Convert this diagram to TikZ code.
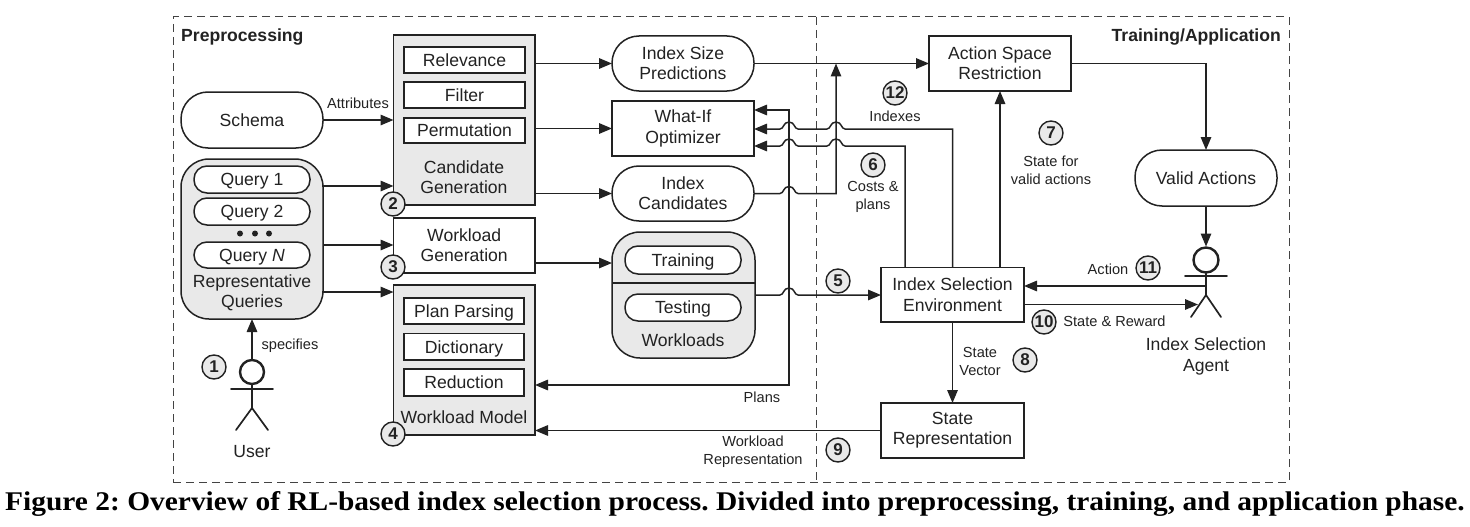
\documentclass[tikz,border=0pt]{standalone}
\usepackage{fontspec}
\usepackage{graphicx}
\setmainfont{Liberation Sans}
\newfontfamily\capfont{Liberation Serif}
\usetikzlibrary{arrows.meta}
\definecolor{ink}{HTML}{222222}
\definecolor{pale}{HTML}{E9E9E9}
\tikzset{
  every node/.style={text=ink},
  shp/.style={draw=ink,line width=1.5pt,inner sep=0pt,outer sep=0pt,align=center,
     font=\fontsize{17.6}{20.3}\selectfont},
  sl/.style={text height=16pt,text depth=3.4pt},
  grayf/.style={fill=pale},
  whitef/.style={fill=white},
  pill/.style={rounded corners=#1},
  conn/.style={draw=ink,line width=1.5pt},
  arr/.style={conn,-{Triangle[length=13pt,width=10.5pt]}},
  darr/.style={conn,{Triangle[length=13pt,width=10.5pt]}-{Triangle[length=13pt,width=10.5pt]}},
  badge/.style={circle,draw=ink,line width=1.4pt,fill=pale,inner sep=0pt,minimum size=24pt,
     font=\fontsize{17}{18}\selectfont\bfseries},
  lab/.style={align=center,font=\fontsize{14.6}{18}\selectfont,inner sep=0pt},
  big/.style={align=center,font=\fontsize{17.6}{20.3}\selectfont,inner sep=0pt},
  ttl/.style={font=\fontsize{17.6}{18}\selectfont\bfseries,inner sep=0pt},
  fig/.style={draw=ink,line width=1.7pt,line cap=round},
  frame/.style={draw=ink!85,line width=1pt,dash pattern=on 8pt off 5pt},
}
\newcommand{\bx}[7][]{%
  \node[shp,#1,minimum width={(#4)-(#2)},minimum height={(#5)-(#3)}] (#6) at ({((#2)+(#4))/2},{((#3)+(#5))/2}) {#7};}
\def\hopL#1#2{-- (#1+9,#2) .. controls (#1+5,#2) and (#1+6,#2-7) .. (#1,#2-7) .. controls (#1-6,#2-7) and (#1-5,#2) .. (#1-9,#2)}
\def\hopR#1#2{-- (#1-9,#2) .. controls (#1-5,#2) and (#1-6,#2-7) .. (#1,#2-7) .. controls (#1+6,#2-7) and (#1+5,#2) .. (#1+9,#2)}
\begin{document}
\begin{tikzpicture}[x=1pt,y=-1pt]
\useasboundingbox (0,0) rectangle (1470,527);
% frame
\node[frame,minimum width=1116pt,minimum height=465pt,inner sep=0pt,outer sep=0pt] (outer) at (731,249.5) {};
\coordinate (divtop) at (816,17);
\coordinate (divbot) at (816,482);
\draw[frame] (divtop) -- (divbot);
\node[ttl,anchor=west] (tpre) at (181,37) {Preprocessing};
\node[ttl,anchor=east] (ttrain) at (1281,37) {Training/Application};
% left column
\bx[whitef,pill=27pt]{181}{92}{323}{148}{schema}{Schema}
\bx[grayf,pill=28pt]{181}{159}{323}{319}{rq}{}
\bx[whitef,pill=13pt,sl]{194}{166}{310}{193}{q1}{Query 1}
\bx[whitef,pill=13pt,sl]{194}{198}{310}{225}{q2}{Query 2}
\bx[whitef,pill=13pt,sl]{194}{242}{310}{268}{qn}{Query \textit{N}}
\fill[ink] (240,233.5) circle (3pt) (255,233.5) circle (3pt) (269,233.5) circle (3pt);
\node[big] (rqlab) at (252,293) {Representative\\Queries};
% candidate generation
\bx[grayf]{393.5}{35}{535}{205}{cg}{}
\bx[whitef,sl]{404}{47}{525}{73}{rel}{Relevance}
\bx[whitef,sl]{404}{82}{525}{108}{fil}{Filter}
\bx[whitef,sl]{404}{118}{525}{143}{perm}{Permutation}
\node[big] (cglab) at (464,177.5) {Candidate\\Generation};
% workload generation
\bx[whitef]{393.5}{218}{535}{273}{wg}{Workload\\Generation}
% workload model
\bx[grayf]{393.5}{285}{535}{435}{wm}{}
\bx[whitef,sl]{404}{298}{524}{324}{pp}{Plan Parsing}
\bx[whitef,sl]{404}{333.5}{524}{360}{dict}{Dictionary}
\bx[whitef,sl]{404}{369}{524}{396}{red}{Reduction}
\node[big] (wmlab) at (464,417) {Workload Model};
% middle
\bx[whitef,pill=27pt]{612}{36}{754}{91}{isp}{Index Size\\Predictions}
\bx[whitef]{612}{101}{754}{156}{wi}{What-If\\Optimizer}
\bx[whitef,pill=27pt]{612}{166}{754}{221}{ic}{Index\\Candidates}
\bx[grayf,pill=28pt]{612}{232}{755}{358}{wl}{}
\coordinate (wldl) at (612,283); \coordinate (wldr) at (755,283);
\draw[conn] (wldl) -- (wldr);
\bx[whitef,pill=13pt,sl]{625}{246}{741}{274}{train}{Training}
\bx[whitef,pill=13pt,sl]{625}{294}{741}{321}{test}{Testing}
\node[big] (wllab) at (683,340) {Workloads};
% right
\bx[whitef]{929}{36}{1071}{91}{asr}{Action Space\\Restriction}
\bx[whitef,pill=27pt]{1135}{150}{1277}{206}{va}{Valid Actions}
\bx[whitef]{881}{267.5}{1024}{322}{ise}{Index Selection\\Environment}
\bx[whitef]{881}{403}{1024}{458}{sr}{State\\Representation}
% user
\node[circle,draw=ink,line width=2.4pt,minimum size=24pt,inner sep=0pt,outer sep=1pt] (uh) at (252,372) {};
\coordinate (ub) at (252,408);
\coordinate (ua) at (252,389);
\draw[fig] (uh.south) -- (ub) -- (236,430) (ub) -- (268,430) (231,389) -- (273,389);
\node[big] (ulab) at (252,452) {User};
% agent
\node[circle,draw=ink,line width=2.4pt,minimum size=25pt,inner sep=0pt,outer sep=1pt] (ah) at (1206,260) {};
\coordinate (ab) at (1206,295);
\draw[fig] (ah.south) -- (ab) -- (1191,317) (ab) -- (1221,317) (1185,276) -- (1227,276);
\node[big] (alab) at (1206,356.5) {Index Selection\\Agent};
% connectors
\draw[arr] (uh.north) -- (rq.south);
\node[lab] (lspec) at (290,346) {specifies};
\draw[arr] (schema.east) -- (cg.west |- schema.east);
\node[lab] (lattr) at (358,103) {Attributes};
\draw[arr] (rq.east |- 0,186) -- (cg.west |- 0,186);
\draw[arr] (rq.east |- 0,245) -- (wg.west |- 0,245);
\draw[arr] (rq.east |- 0,292) -- (wm.west |- 0,292);
\draw[arr] (cg.east |- isp.west) -- (isp.west);
\draw[arr] (cg.east |- wi.west) -- (wi.west);
\draw[arr] (cg.east |- ic.west) -- (ic.west);
\draw[arr] (wg.east |- 0,263) -- (wl.west |- 0,263);
\draw[arr] (isp.east) -- (asr.west |- isp.east);
\coordinate (merge) at (836,63.5);
\coordinate (mergeb) at (836,193.5);
\draw[arr] (ic.east) \hopR{789}{193.5} -- (mergeb) -- (merge);
\coordinate (plb) at (789,385);
\coordinate (plt) at (789,110);
\draw[darr] (wm.east |- plb) -- (plb) -- (plt) -- (wi.east |- plt);
\coordinate (idx) at (952.5,129);
\draw[arr] (ise.north) -- (idx) \hopL{836}{129} \hopL{789}{129} -- (wi.east |- idx);
\coordinate (cst) at (905,146);
\draw[arr] (ise.north -| cst) -- (cst) \hopL{836}{146} \hopL{789}{146} -- (wi.east |- cst);
\draw[arr] (ise.north -| asr.south) -- (asr.south);
\draw[arr] (wl.east |- 0,295) \hopR{789}{295} -- (ise.west |- 0,295);
\coordinate (asrc) at (1206,63.5);
\draw[arr] (asr.east) -- (asrc) -- (va.north -| asrc);
\draw[arr] (va.south) -- (ah.north);
\coordinate (actr) at (1206,286);
\draw[arr] (actr) -- (ise.east |- actr);
\coordinate (strw) at (1198,304.5);
\draw[arr] (ise.east |- strw) -- (strw);
\draw[arr] (ise.south) -- (sr.north);
\draw[arr] (sr.west |- 0,430.5) -- (wm.east |- 0,430.5);
% labels
\node[lab] (lidx) at (895,116) {Indexes};
\node[lab] (lcost) at (873,197) {Costs \&\\plans};
\node[lab] (lvalid) at (1051,170) {State for\\valid actions};
\node[lab] (lact) at (1108,269) {Action};
\node[lab] (lstr) at (1114.5,321.5) {State \& Reward};
\node[lab] (lvec) at (980,361) {State\\Vector};
\node[lab] (lpl) at (762,397) {Plans};
\node[lab] (lwr) at (753,452) {Workload\\Representation};
% badges
\node[badge] (b1) at (214,367) {1};
\node[badge] (b2) at (393,204) {2};
\node[badge] (b3) at (393,267) {3};
\node[badge] (b4) at (393,434) {4};
\node[badge] (b5) at (838,281) {5};
\node[badge] (b6) at (873,165) {6};
\node[badge] (b7) at (1051,133) {7};
\node[badge] (b8) at (1025,360) {8};
\node[badge] (b9) at (838,450) {9};
\node[badge] (b10) at (1044,322) {10};
\node[badge] (b11) at (1148,268) {11};
\node[badge] (b12) at (895,93) {12};
% caption
\node[inner sep=0pt,text=black,anchor=base] (cap) at (735,510) {\scalebox{1.09}[1]{\capfont\bfseries\frenchspacing\fontsize{27}{30}\selectfont Figure 2: Overview of RL-based index selection process. Divided into preprocessing, training, and application phase.}};
\end{tikzpicture}
\end{document}
